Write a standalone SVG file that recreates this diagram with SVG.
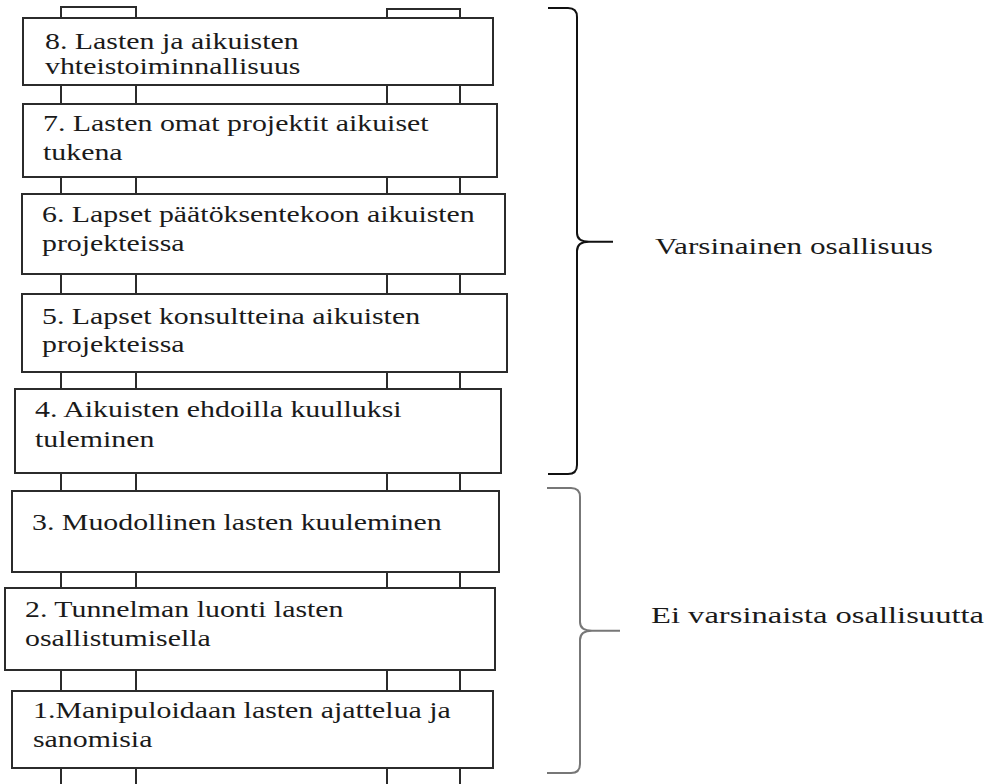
<svg xmlns="http://www.w3.org/2000/svg" width="988" height="784" viewBox="0 0 988 784">
<style>
.box{fill:#ffffff;stroke:#2b2b2b;stroke-width:2}
.rail{fill:none;stroke:#2b2b2b;stroke-width:2}
.t{font-family:"Liberation Serif","Times New Roman",serif;font-size:24px;fill:#1a1a1a}
.brace{fill:none;stroke-width:2;stroke-linejoin:round}
</style>
<rect width="988" height="784" fill="#ffffff"/>
<g id="connectors">
<path class="rail" d="M61,784 V7 H136 V784"/>
<path class="rail" d="M387,784 V9 H460 V784"/>
</g>
<g id="n8">
<rect class="box" x="23" y="18" width="470" height="67"/>
<text class="t" transform="matrix(1.245 0 0 1 45 49)">8. Lasten ja aikuisten</text>
<text class="t" transform="matrix(1.245 0 0 1 45 74)">vhteistoiminnallisuus</text>
</g>
<g id="n7">
<rect class="box" x="23" y="104" width="474" height="73"/>
<text class="t" transform="matrix(1.245 0 0 1 43 131)">7. Lasten omat projektit aikuiset</text>
<text class="t" transform="matrix(1.245 0 0 1 43 160)">tukena</text>
</g>
<g id="n6">
<rect class="box" x="22" y="194" width="483" height="80"/>
<text class="t" transform="matrix(1.245 0 0 1 42 222)">6. Lapset päätöksentekoon aikuisten</text>
<text class="t" transform="matrix(1.245 0 0 1 42 251)">projekteissa</text>
</g>
<g id="n5">
<rect class="box" x="22" y="294" width="485" height="78"/>
<text class="t" transform="matrix(1.245 0 0 1 42 323.5)">5. Lapset konsultteina aikuisten</text>
<text class="t" transform="matrix(1.245 0 0 1 42 352)">projekteissa</text>
</g>
<g id="n4">
<rect class="box" x="15" y="389" width="486" height="84"/>
<text class="t" transform="matrix(1.245 0 0 1 35 417)">4. Aikuisten ehdoilla kuulluksi</text>
<text class="t" transform="matrix(1.245 0 0 1 35 446.5)">tuleminen</text>
</g>
<g id="n3">
<rect class="box" x="12" y="491" width="487" height="81"/>
<text class="t" transform="matrix(1.245 0 0 1 32 530)">3. Muodollinen lasten kuuleminen</text>
</g>
<g id="n2">
<rect class="box" x="5" y="588" width="490" height="82"/>
<text class="t" transform="matrix(1.245 0 0 1 25 617)">2. Tunnelman luonti lasten</text>
<text class="t" transform="matrix(1.245 0 0 1 25 645.5)">osallistumisella</text>
</g>
<g id="n1">
<rect class="box" x="12" y="691" width="481" height="77"/>
<text class="t" transform="matrix(1.245 0 0 1 33 718)">1.Manipuloidaan lasten ajattelua ja</text>
<text class="t" transform="matrix(1.245 0 0 1 33 747)">sanomisia</text>
</g>
<g id="brace-upper">
<path class="brace" stroke="#111111" d="M548,8 H568 Q577,8 577,17 V233 Q577,241.7 589,241.7 H613 M589,241.7 Q577,241.7 577,251 V465 Q577,474 568,474 H548"/>
<text class="t" x="655" y="254" textLength="278" lengthAdjust="spacingAndGlyphs">Varsinainen osallisuus</text>
</g>
<g id="brace-lower">
<path class="brace" stroke="#777777" d="M547,488 H571 Q580,488 580,497 V622 Q580,630.7 592,630.7 H620 M592,630.7 Q580,630.7 580,640 V764 Q580,773 571,773 H547"/>
<text class="t" x="651" y="623" textLength="333" lengthAdjust="spacingAndGlyphs">Ei varsinaista osallisuutta</text>
</g>
</svg>
